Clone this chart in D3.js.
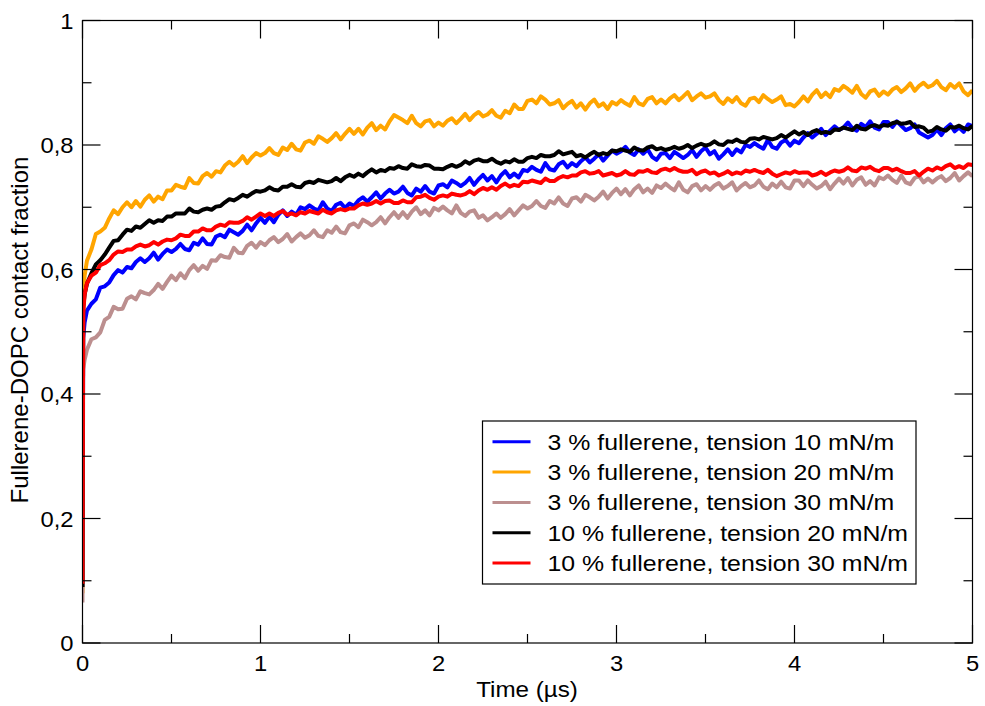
<!DOCTYPE html>
<html>
<head>
<meta charset="utf-8">
<script src="https://cdn.jsdelivr.net/npm/d3@7"></script>
<style>
  body { margin: 0; background: #fff; }
  text { font-family: "Liberation Sans", Arial, Helvetica, sans-serif; fill: #000; }
</style>
</head>
<body>
<div id="chart"></div>
<script>
// ── DATA ───────────────────────────────────────────────────────────────
// first few frames (µs), then one value every STEP µs from STEP to 5 µs
const EARLY_T = [0, 0.004, 0.012];
const STEP = 0.025;

const blueEarly = [0.09, 0.49, 0.515];
const blueVals = [
  0.534,0.545,0.552,0.571,0.573,0.579,0.591,0.599,0.595,0.604,
  0.602,0.612,0.618,0.612,0.618,0.627,0.616,0.625,0.632,0.628,
  0.633,0.641,0.633,0.631,0.643,0.640,0.650,0.641,0.640,0.653,
  0.656,0.652,0.664,0.660,0.656,0.662,0.672,0.663,0.674,0.683,
  0.675,0.685,0.676,0.688,0.695,0.686,0.693,0.688,0.700,0.697,
  0.703,0.698,0.695,0.708,0.698,0.694,0.704,0.707,0.699,0.706,
  0.702,0.711,0.716,0.709,0.716,0.724,0.714,0.722,0.728,0.722,
  0.725,0.733,0.723,0.719,0.730,0.725,0.734,0.725,0.722,0.735,
  0.737,0.732,0.743,0.739,0.734,0.739,0.747,0.736,0.745,0.752,
  0.743,0.750,0.740,0.751,0.758,0.748,0.754,0.748,0.760,0.758,
  0.765,0.760,0.757,0.771,0.761,0.759,0.769,0.773,0.764,0.771,
  0.766,0.774,0.780,0.772,0.778,0.785,0.775,0.783,0.791,0.786,
  0.790,0.797,0.788,0.784,0.793,0.786,0.793,0.781,0.776,0.786,
  0.787,0.779,0.789,0.784,0.779,0.784,0.792,0.781,0.790,0.796,
  0.785,0.790,0.778,0.785,0.793,0.784,0.793,0.788,0.800,0.797,
  0.803,0.798,0.794,0.808,0.797,0.794,0.804,0.808,0.799,0.807,
  0.803,0.812,0.819,0.812,0.818,0.826,0.816,0.823,0.830,0.824,
  0.828,0.836,0.827,0.823,0.834,0.829,0.838,0.828,0.825,0.837,
  0.837,0.829,0.838,0.831,0.824,0.827,0.833,0.820,0.816,0.812,
  0.816,0.825,0.816,0.827,0.833,0.822,0.828,0.821,0.833,0.830
];

const orangeEarly = [0.08, 0.56, 0.59];
const orangeVals = [
  0.614,0.632,0.657,0.661,0.667,0.682,0.695,0.689,0.700,0.708,
  0.700,0.710,0.701,0.712,0.719,0.709,0.717,0.713,0.727,0.727,
  0.736,0.733,0.731,0.747,0.739,0.738,0.750,0.755,0.749,0.758,
  0.756,0.767,0.773,0.767,0.773,0.782,0.771,0.780,0.787,0.783,
  0.787,0.795,0.787,0.784,0.796,0.792,0.802,0.793,0.791,0.804,
  0.807,0.802,0.814,0.810,0.805,0.811,0.819,0.809,0.818,0.826,
  0.818,0.826,0.817,0.828,0.835,0.824,0.831,0.825,0.838,0.848,
  0.844,0.840,0.835,0.847,0.835,0.830,0.838,0.840,0.830,0.836,
  0.831,0.839,0.843,0.835,0.842,0.850,0.840,0.848,0.853,0.846,
  0.849,0.856,0.847,0.844,0.855,0.851,0.865,0.858,0.858,0.871,
  0.873,0.867,0.878,0.873,0.865,0.867,0.872,0.859,0.866,0.871,
  0.860,0.867,0.857,0.867,0.873,0.862,0.867,0.858,0.869,0.865,
  0.872,0.867,0.863,0.877,0.867,0.864,0.874,0.877,0.867,0.873,
  0.867,0.875,0.880,0.872,0.878,0.885,0.872,0.878,0.883,0.876,
  0.878,0.883,0.872,0.866,0.875,0.869,0.877,0.867,0.863,0.874,
  0.876,0.869,0.880,0.874,0.869,0.873,0.878,0.864,0.866,0.862,
  0.869,0.878,0.870,0.881,0.888,0.877,0.884,0.877,0.890,0.887,
  0.895,0.890,0.884,0.895,0.882,0.876,0.886,0.889,0.879,0.886,
  0.881,0.889,0.893,0.885,0.891,0.899,0.887,0.895,0.900,0.893,
  0.896,0.903,0.893,0.888,0.898,0.892,0.899,0.886,0.880,0.888
];

const brownEarly = [0.065, 0.44, 0.455];
const brownVals = [
  0.471,0.488,0.491,0.499,0.519,0.524,0.540,0.536,0.537,0.553,
  0.557,0.552,0.565,0.562,0.560,0.567,0.577,0.569,0.580,0.590,
  0.583,0.594,0.586,0.599,0.607,0.598,0.606,0.601,0.615,0.614,
  0.623,0.620,0.619,0.635,0.627,0.626,0.638,0.643,0.635,0.644,
  0.639,0.647,0.652,0.644,0.649,0.657,0.645,0.652,0.658,0.651,
  0.655,0.663,0.654,0.652,0.663,0.659,0.669,0.660,0.658,0.671,
  0.674,0.668,0.680,0.676,0.671,0.676,0.684,0.674,0.684,0.692,
  0.683,0.692,0.683,0.693,0.700,0.689,0.695,0.687,0.699,0.695,
  0.701,0.695,0.690,0.703,0.691,0.686,0.693,0.695,0.683,0.687,
  0.679,0.684,0.690,0.683,0.689,0.697,0.687,0.695,0.703,0.698,
  0.702,0.710,0.702,0.699,0.710,0.706,0.716,0.706,0.702,0.714,
  0.716,0.709,0.720,0.716,0.711,0.717,0.725,0.714,0.723,0.730,
  0.721,0.729,0.719,0.729,0.735,0.724,0.730,0.723,0.735,0.731,
  0.738,0.732,0.727,0.740,0.728,0.724,0.734,0.737,0.727,0.734,
  0.728,0.735,0.739,0.730,0.734,0.740,0.727,0.734,0.739,0.732,
  0.735,0.743,0.733,0.729,0.738,0.732,0.741,0.732,0.730,0.743,
  0.743,0.734,0.743,0.736,0.730,0.734,0.741,0.729,0.738,0.746,
  0.738,0.747,0.735,0.744,0.748,0.736,0.742,0.735,0.748,0.745,
  0.751,0.744,0.739,0.751,0.740,0.737,0.747,0.750,0.740,0.746,
  0.740,0.746,0.750,0.742,0.747,0.755,0.743,0.750,0.756,0.750
];

const blackEarly = [0.09, 0.54, 0.56];
const blackVals = [
  0.577,0.594,0.608,0.615,0.624,0.635,0.646,0.647,0.656,0.664,
  0.662,0.669,0.667,0.673,0.679,0.675,0.679,0.678,0.685,0.685,
  0.690,0.690,0.690,0.698,0.693,0.692,0.696,0.698,0.696,0.701,
  0.702,0.708,0.713,0.711,0.715,0.720,0.717,0.722,0.726,0.725,
  0.727,0.732,0.728,0.727,0.733,0.733,0.737,0.733,0.732,0.739,
  0.741,0.739,0.744,0.742,0.740,0.742,0.747,0.742,0.748,0.752,
  0.749,0.754,0.750,0.756,0.761,0.756,0.760,0.758,0.763,0.762,
  0.766,0.763,0.762,0.769,0.766,0.765,0.768,0.767,0.762,0.762,
  0.761,0.765,0.768,0.765,0.768,0.774,0.770,0.775,0.777,0.774,
  0.774,0.778,0.773,0.770,0.774,0.772,0.777,0.773,0.773,0.779,
  0.781,0.779,0.784,0.782,0.782,0.784,0.790,0.785,0.787,0.789,
  0.782,0.784,0.780,0.785,0.789,0.784,0.787,0.785,0.791,0.790,
  0.793,0.791,0.789,0.796,0.792,0.791,0.796,0.798,0.793,0.795,
  0.792,0.794,0.797,0.794,0.796,0.800,0.795,0.799,0.802,0.799,
  0.801,0.806,0.801,0.800,0.806,0.805,0.809,0.805,0.804,0.810,
  0.811,0.809,0.813,0.811,0.809,0.811,0.816,0.812,0.817,0.822,
  0.817,0.821,0.816,0.821,0.824,0.819,0.821,0.819,0.825,0.824,
  0.828,0.826,0.824,0.831,0.826,0.825,0.830,0.832,0.829,0.832,
  0.831,0.835,0.837,0.834,0.835,0.837,0.829,0.830,0.828,0.821,
  0.823,0.829,0.825,0.823,0.829,0.828,0.831,0.827,0.825,0.831
];

const redEarly = [0.095, 0.53, 0.56];
const redVals = [
  0.578,0.590,0.595,0.607,0.610,0.615,0.624,0.629,0.628,0.632,
  0.632,0.637,0.640,0.637,0.639,0.644,0.640,0.645,0.648,0.647,
  0.650,0.656,0.654,0.654,0.661,0.661,0.666,0.663,0.663,0.669,
  0.672,0.670,0.676,0.675,0.675,0.678,0.684,0.680,0.685,0.690,
  0.686,0.690,0.686,0.691,0.694,0.688,0.690,0.687,0.692,0.690,
  0.694,0.692,0.690,0.696,0.692,0.690,0.695,0.697,0.695,0.698,
  0.698,0.703,0.706,0.704,0.706,0.710,0.706,0.710,0.711,0.707,
  0.707,0.711,0.708,0.708,0.716,0.717,0.720,0.715,0.712,0.717,
  0.719,0.717,0.722,0.720,0.719,0.721,0.726,0.721,0.727,0.731,
  0.728,0.732,0.728,0.734,0.738,0.733,0.736,0.734,0.741,0.740,
  0.743,0.741,0.739,0.746,0.742,0.742,0.747,0.750,0.748,0.751,
  0.751,0.756,0.758,0.754,0.755,0.758,0.751,0.753,0.755,0.751,
  0.753,0.758,0.753,0.752,0.758,0.757,0.760,0.756,0.755,0.760,
  0.762,0.759,0.763,0.759,0.757,0.757,0.760,0.753,0.757,0.759,
  0.754,0.756,0.751,0.754,0.758,0.753,0.756,0.754,0.759,0.757,
  0.760,0.757,0.755,0.760,0.754,0.750,0.753,0.756,0.754,0.758,
  0.755,0.756,0.756,0.751,0.753,0.757,0.752,0.756,0.759,0.757,
  0.759,0.764,0.759,0.758,0.764,0.762,0.765,0.760,0.758,0.763,
  0.763,0.759,0.762,0.758,0.755,0.755,0.758,0.751,0.757,0.762,
  0.759,0.764,0.761,0.766,0.769,0.763,0.766,0.763,0.769,0.768
];

const seriesNames = [
  "3 % fullerene, tension 10 mN/m",
  "3 % fullerene, tension 20 mN/m",
  "3 % fullerene, tension 30 mN/m",
  "10 % fullerene, tension 20 mN/m",
  "10 % fullerene, tension 30 mN/m"
];
const seriesColors = ["#0000ff", "#ffa500", "#bc8f8f", "#000000", "#ff0000"];
const seriesEarly  = [blueEarly, orangeEarly, brownEarly, blackEarly, redEarly];
const seriesValues = [blueVals, orangeVals, brownVals, blackVals, redVals];

const xMajor = [0, 1, 2, 3, 4, 5];
const xMinor = [0.5, 1.5, 2.5, 3.5, 4.5];
const xTickLabels = ["0", "1", "2", "3", "4", "5"];
const yMajor = [0, 0.2, 0.4, 0.6, 0.8, 1];
const yMinor = [0.1, 0.3, 0.5, 0.7, 0.9];
const yTickLabels = ["0", "0,2", "0,4", "0,6", "0,8", "1"];

// ── SETUP ──────────────────────────────────────────────────────────────
const W = 985, H = 706;
const pL = 82.5, pR = 972.5, pT = 20.5, pB = 643;

const svg = d3.select("#chart").append("svg")
  .attr("width", W).attr("height", H);

const x = d3.scaleLinear().domain([0, 5]).range([pL, pR]);
const y = d3.scaleLinear().domain([0, 1]).range([pB, pT]);

// the original text is a bit wider than Liberation Sans, stretch it a little
function stretchedText(g, tx, ty, str, size, sx, anchor) {
  return g.append("text")
    .attr("transform", `translate(${tx},${ty}) scale(${sx},1)`)
    .attr("text-anchor", anchor)
    .attr("font-size", size)
    .text(str);
}

// ── LINES ──────────────────────────────────────────────────────────────
svg.append("clipPath").attr("id", "plot-clip")
  .append("rect").attr("x", pL).attr("y", pT)
  .attr("width", pR - pL).attr("height", pB - pT);

const line = d3.line().x(d => x(d[0])).y(d => y(d[1]));

const plot = svg.append("g").attr("clip-path", "url(#plot-clip)");
seriesValues.forEach((vals, k) => {
  const pts = EARLY_T.map((t, i) => [t, seriesEarly[k][i]])
    .concat(vals.map((v, i) => [(i + 1) * STEP, v]));
  plot.append("path")
    .datum(pts)
    .attr("fill", "none")
    .attr("stroke", seriesColors[k])
    .attr("stroke-width", 4)
    .attr("stroke-linejoin", "round")
    .attr("d", line);
});

// ── FRAME AND TICKS ────────────────────────────────────────────────────
const axes = svg.append("g").attr("stroke", "#000").attr("stroke-width", 1.2);
axes.append("rect")
  .attr("x", pL).attr("y", pT)
  .attr("width", pR - pL).attr("height", pB - pT)
  .attr("fill", "none");

const MAJ = 18, MIN = 9;
function xTick(v, len) {
  axes.append("line").attr("x1", x(v)).attr("x2", x(v)).attr("y1", pB).attr("y2", pB - len);
  axes.append("line").attr("x1", x(v)).attr("x2", x(v)).attr("y1", pT).attr("y2", pT + len);
}
function yTick(v, len) {
  axes.append("line").attr("y1", y(v)).attr("y2", y(v)).attr("x1", pL).attr("x2", pL + len);
  axes.append("line").attr("y1", y(v)).attr("y2", y(v)).attr("x1", pR).attr("x2", pR - len);
}
xMajor.forEach(v => xTick(v, MAJ));
xMinor.forEach(v => xTick(v, MIN));
yMajor.forEach(v => yTick(v, MAJ));
yMinor.forEach(v => yTick(v, MIN));

const labels = svg.append("g");
xMajor.forEach((v, i) => stretchedText(labels, x(v), 671, xTickLabels[i], 22, 1.08, "middle"));
yMajor.forEach((v, i) => stretchedText(labels, 73.5, y(v) + 8, yTickLabels[i], 22, 1.08, "end"));

stretchedText(labels, 527, 697, "Time (µs)", 22, 1.1, "middle");

labels.append("text")
  .attr("transform", `translate(28,${(152 + 508) / 2}) rotate(-90)`)
  .attr("text-anchor", "middle")
  .attr("font-size", 24)
  .text("Fullerene-DOPC contact fraction");

// ── LEGEND ─────────────────────────────────────────────────────────────
const legend = svg.append("g").attr("transform", "translate(482.5,421)");
legend.append("rect")
  .attr("width", 433.5).attr("height", 163)
  .attr("fill", "#fff").attr("stroke", "#000").attr("stroke-width", 1.2);

seriesNames.forEach((name, i) => {
  const cy = 20.7 + i * 30.35;
  legend.append("line")
    .attr("x1", 10).attr("x2", 48).attr("y1", cy).attr("y2", cy)
    .attr("stroke", seriesColors[i]).attr("stroke-width", 3);
  stretchedText(legend, 65, cy + 8, name, 22, 1.13, "start");
});
</script>
</body>
</html>
